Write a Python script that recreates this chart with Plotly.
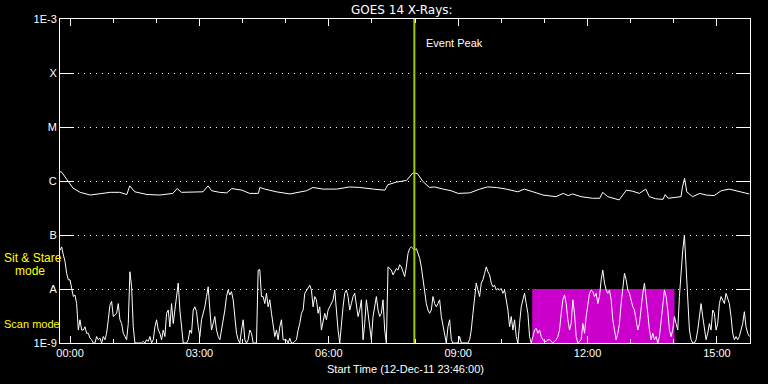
import pandas as pd
import plotly.graph_objects as go

# ---------------- data ----------------
start_time = "2011-12-12 23:46:00"
end_time = "2011-12-13 15:46:00"
event_peak_time = "2011-12-13 07:59:00"
scan_box_start = "2011-12-13 10:43:00"
scan_box_end = "2011-12-13 14:01:00"
scan_box_low = 1e-9
scan_box_high = 1e-8

# long channel (1-8 A): minutes after start, log10 flux
long_minutes = [
    0, 2, 18, 28, 42, 56, 70, 83, 93, 97,
    104, 121, 139, 157, 163, 169, 185, 199, 206, 211,
    222, 232, 239, 253, 264, 276, 278, 285, 301, 320,
    343, 352, 366, 385, 403, 417, 436, 452, 456, 468,
    482, 491, 497, 505, 514, 521, 533, 544, 554, 570,
    584, 595, 607, 621, 637, 646, 658, 672, 690, 700,
    707, 713, 725, 741, 751, 755, 762, 778, 788, 797,
    806, 815, 820, 829, 839, 842, 846, 852, 864, 866,
    869, 872, 880, 890, 899, 910, 920, 931, 941, 954,
    959,
]
long_log10_flux = [
    -5.83, -5.83, -6.13, -6.21, -6.26, -6.23, -6.21, -6.21, -6.25, -6.09,
    -6.20, -6.25, -6.26, -6.23, -6.14, -6.21, -6.21, -6.20, -6.09, -6.18,
    -6.21, -6.22, -6.14, -6.17, -6.23, -6.23, -6.12, -6.15, -6.20, -6.24,
    -6.18, -6.12, -6.15, -6.15, -6.11, -6.12, -6.15, -6.17, -6.07, -6.02,
    -5.99, -5.85, -5.86, -6.01, -6.12, -6.11, -6.15, -6.18, -6.23, -6.22,
    -6.15, -6.11, -6.12, -6.15, -6.20, -6.15, -6.20, -6.26, -6.29, -6.23,
    -6.27, -6.24, -6.29, -6.32, -6.32, -6.21, -6.29, -6.35, -6.17, -6.19,
    -6.23, -6.15, -6.29, -6.33, -6.34, -6.25, -6.32, -6.31, -6.29, -6.11,
    -5.95, -6.20, -6.29, -6.23, -6.26, -6.27, -6.18, -6.15, -6.18, -6.23,
    -6.24,
]

# short channel (0.5-4 A): regular samples every 139 s from start, log10 flux
short_step_seconds = 139
short_log10_flux = [
    -7.28, -7.22, -7.37, -7.49, -7.71, -7.83, -7.83, -7.99, -8.14, -8.11,
    -8.27, -8.76, -8.57, -8.76, -8.76, -8.70, -8.82, -8.82, -8.91, -8.94,
    -9.00, -9.00, -8.88, -8.94, -8.91, -9.00, -8.88, -8.94, -8.82, -8.57,
    -8.30, -8.23, -8.51, -8.48, -8.45, -8.27, -8.57, -8.64, -8.82, -8.88,
    -8.94, -8.64, -7.68, -7.96, -8.70, -9.00, -9.00, -9.00, -9.00, -9.00,
    -8.97, -9.00, -8.94, -8.97, -8.88, -9.00, -8.94, -8.70, -8.57, -8.76,
    -8.82, -8.94, -8.76, -8.88, -8.45, -8.39, -8.70, -8.27, -8.64, -8.39,
    -8.14, -7.89, -8.39, -8.76, -9.00, -9.00, -9.00, -8.94, -8.76, -8.82,
    -8.39, -8.33, -8.42, -8.70, -8.88, -8.57, -8.45, -8.33, -8.14, -7.96,
    -8.39, -8.76, -8.64, -8.51, -8.76, -8.88, -8.94, -8.76, -8.57, -8.39,
    -8.14, -8.02, -8.11, -8.05, -8.20, -8.51, -8.82, -8.94, -9.00, -8.76,
    -8.57, -8.94, -9.00, -8.94, -8.76, -8.82, -9.00, -9.00, -9.00, -7.65,
    -7.64, -8.14, -8.14, -8.27, -8.08, -8.33, -8.20, -8.45, -8.64, -8.88,
    -8.76, -8.94, -8.70, -8.57, -8.94, -8.94, -8.94, -9.00, -8.91, -9.00,
    -9.00, -8.97, -8.94, -8.76, -8.64, -8.45, -8.39, -8.08, -8.02, -7.96,
    -7.93, -8.02, -8.33, -8.14, -8.20, -8.45, -8.33, -8.76, -8.57, -8.45,
    -8.57, -8.39, -8.33, -8.27, -8.20, -8.02, -8.45, -8.76, -9.00, -8.57,
    -8.33, -8.08, -8.02, -8.14, -8.39, -8.27, -8.14, -8.08, -8.33, -8.51,
    -8.39, -8.20, -8.94, -8.64, -8.20, -8.45, -8.70, -8.94, -8.51, -8.33,
    -8.14, -8.39, -8.51, -8.45, -8.20, -8.76, -9.00, -7.59, -7.62, -7.65,
    -7.74, -7.68, -7.62, -7.65,
    -7.55, -7.59, -7.68, -7.77, -7.59, -7.34, -7.25, -7.22, -7.25, -7.28,
    -7.25, -7.34, -7.43, -7.59, -7.83, -8.08, -8.27, -8.39, -8.45, -8.39,
    -8.14, -8.27, -8.33, -8.27, -8.20, -8.51, -8.70, -8.88, -9.00, -8.70,
    -8.57, -8.94, -9.00, -9.00, -9.00, -9.00, -8.88, -9.00, -9.00, -9.00,
    -9.00, -9.00, -8.94, -8.76, -8.45, -8.14, -7.89, -8.02, -8.14, -7.89,
    -7.83, -7.71, -7.59, -7.68, -7.74, -7.89, -7.96, -7.93, -8.02, -7.99,
    -8.02, -7.99, -8.08, -8.02, -8.23, -8.39, -8.70, -8.51, -8.76, -8.57,
    -8.88, -9.00, -8.64, -8.33, -8.20, -8.08, -8.27, -8.45, -8.88, -9.00,
    -8.88, -8.76, -8.73, -8.82, -8.76, -8.88, -8.94, -8.97, -8.97, -8.94,
    -8.94, -8.97, -9.00, -8.97, -8.94, -8.88, -8.76, -8.45, -8.20, -8.11,
    -8.27, -8.57, -8.76, -8.64, -8.20, -8.45, -8.88, -9.00, -8.97, -8.94,
    -8.64, -8.82, -8.51, -8.33, -8.08, -8.02, -8.05, -8.14, -8.08, -8.27,
    -8.14, -7.83, -7.65, -7.89, -8.02, -8.08, -8.02, -8.20, -8.57, -8.76,
    -8.94, -8.82, -8.64, -8.27, -8.02, -7.71, -7.83, -8.02, -8.08, -8.20,
    -8.33, -8.39, -8.57, -8.76, -8.64, -8.33, -8.08, -7.89, -8.14, -8.45,
    -8.76, -8.94, -8.82, -8.94, -8.88, -9.00, -8.88, -8.57, -8.27, -8.02,
    -8.14, -8.39, -8.76, -8.88, -8.76, -8.51, -8.64, -8.76, -8.14, -7.65,
    -7.28, -7.00, -7.65, -8.27, -8.76, -8.94, -9.00, -9.00, -8.94, -8.76,
    -8.45, -8.27, -8.51, -8.76, -8.94, -8.82, -8.64, -8.76, -8.39, -8.45,
    -8.76, -8.64, -8.27, -8.14, -8.20, -8.27, -8.08, -8.20, -8.27, -8.51,
    -8.82, -8.94, -8.88, -8.94, -8.88, -8.76, -8.64, -8.42, -8.70, -8.82, -8.88,
]

y_tick_values = [1e-9, 1e-8, 1e-7, 1e-6, 1e-5, 1e-4, 1e-3]
y_tick_labels = ["1E-9", "A", "B", "C", "M", "X", "1E-3"]

title_text = "GOES 14 X-Rays:"
xlabel_text = "Start Time (12-Dec-11 23:46:00)"

# ---------------- build ----------------
t0 = pd.Timestamp(start_time)
long_t = [t0 + pd.Timedelta(minutes=m) for m in long_minutes]
long_y = [10 ** v for v in long_log10_flux]
short_t = pd.date_range(t0, periods=len(short_log10_flux), freq=f"{short_step_seconds}s")
short_y = [10 ** v for v in short_log10_flux]

fig = go.Figure()

# scan-mode box
fig.add_trace(go.Scatter(
    x=[scan_box_start, scan_box_end, scan_box_end, scan_box_start, scan_box_start],
    y=[scan_box_low, scan_box_low, scan_box_high, scan_box_high, scan_box_low],
    mode="lines", fill="toself", fillcolor="#CC00CC",
    line=dict(color="#CC00CC", width=0), hoverinfo="skip", showlegend=False))

fig.add_trace(go.Scatter(x=short_t, y=short_y, mode="lines",
                         line=dict(color="white", width=1), showlegend=False))
fig.add_trace(go.Scatter(x=long_t, y=long_y, mode="lines",
                         line=dict(color="white", width=1), showlegend=False))

# event peak line
fig.add_trace(go.Scatter(x=[event_peak_time, event_peak_time], y=[1e-9, 1e-3],
                         mode="lines", line=dict(color="#9CCC00", width=2),
                         showlegend=False, hoverinfo="skip"))

font_main = "Liberation Sans, Arial, sans-serif"

fig.update_layout(
    width=768, height=384,
    margin=dict(l=60, r=18, t=19, b=41),
    paper_bgcolor="black", plot_bgcolor="black",
    font=dict(family=font_main, size=11, color="white"),
    showlegend=False,
    xaxis=dict(
        type="date", range=[start_time, end_time],
        showline=True, linecolor="white", linewidth=1, mirror="ticks",
        ticks="inside", ticklen=7, tickcolor="white", tickwidth=1,
        tick0="2011-12-13 00:00:00", dtick=3 * 3600000, tickformat="%H:%M",
        minor=dict(ticks="inside", ticklen=4, tickcolor="white",
                   dtick=3600000, showgrid=False),
        showgrid=False, zeroline=False,
        tickfont=dict(size=11, color="white"),
    ),
    yaxis=dict(
        type="log", range=[-9, -3],
        showline=True, linecolor="white", linewidth=1, mirror="ticks",
        ticks="inside", ticklen=14, tickcolor="white", tickwidth=1,
        tickvals=y_tick_values, ticktext=y_tick_labels,
        showgrid=True, gridcolor="white", gridwidth=1, griddash="1px,5px",
        zeroline=False,
        tickfont=dict(size=11, color="white"),
    ),
    annotations=[
        dict(text=title_text, xref="paper", yref="paper", x=0.5, y=1, yshift=9,
             xshift=-3, showarrow=False, yanchor="middle",
             font=dict(family="DejaVu Sans, sans-serif", size=12, color="white")),
        dict(text=xlabel_text, xref="paper", yref="paper", x=0.5, y=0, yshift=-26,
             showarrow=False, yanchor="middle",
             font=dict(size=11, color="white")),
        dict(text="Event Peak", xref="x", yref="paper", x=event_peak_time,
             y=(343 - 43) / 324, xshift=10, xanchor="left", yanchor="middle",
             showarrow=False, font=dict(size=11, color="white")),
        dict(text="Sit & Stare", xref="paper", yref="paper", x=0, xshift=-58,
             xanchor="left", y=(343 - 258) / 324, yanchor="middle",
             showarrow=False, font=dict(size=12, color="#FFFF00")),
        dict(text="mode", xref="paper", yref="paper", x=0, xshift=-47,
             xanchor="left", y=(343 - 271) / 324, yanchor="middle",
             showarrow=False, font=dict(size=12, color="#FFFF00")),
        dict(text="Scan mode", xref="paper", yref="paper", x=0, xshift=-58,
             xanchor="left", y=(343 - 324) / 324, yanchor="middle",
             showarrow=False, font=dict(size=11, color="#FFFF00")),
    ],
)

fig.write_html("out.html")
